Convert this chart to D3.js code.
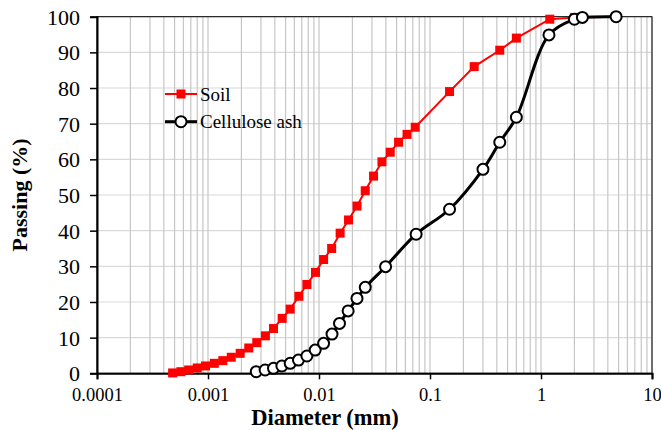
<!DOCTYPE html>
<html>
<head>
<meta charset="utf-8">
<script src="https://cdn.jsdelivr.net/npm/d3@7"></script>
<style>
    body { margin: 0; background: #fff; }
    svg text { font-family: "Liberation Serif", "Times New Roman", Times, serif; }
</style>
</head>
<body>
<div id="chart"></div>
<script>
    // grain size values
    const soilDiameter = [0.00048, 0.00057, 0.00067, 0.0008, 0.00095, 0.00114, 0.00136, 0.00162, 0.00195, 0.00233,
        0.00275, 0.00329, 0.00389, 0.00466, 0.0055, 0.00659, 0.00778, 0.0093, 0.011, 0.013,
        0.0155, 0.01845, 0.022, 0.0261, 0.031, 0.0369, 0.0438, 0.0521, 0.0621, 0.0736,
        0.15, 0.25, 0.425, 0.6, 1.2, 2.0, 4.75];
    const soilPassing = [0.1, 0.45, 0.93, 1.5, 2.05, 2.8, 3.55, 4.5, 5.6, 7.1,
        8.6, 10.5, 12.55, 15.4, 18.0, 21.6, 24.9, 28.3, 31.9, 35.0,
        39.3, 43.0, 46.9, 51.2, 55.3, 59.3, 62.0, 64.8, 67.0, 69.0,
        79.0, 86.0, 90.6, 94.0, 99.3, 99.8, 100];

    const ashDiameter = [0.00272, 0.00327, 0.00389, 0.00463, 0.0055, 0.00653, 0.00778, 0.00924, 0.011, 0.0131,
        0.0153, 0.0183, 0.022, 0.0261, 0.0398, 0.075, 0.15, 0.3, 0.425, 0.6,
        1.18, 2.0, 2.36, 4.75];
    const ashPassing = [0.45, 0.93, 1.4, 2.05, 2.8, 3.7, 4.85, 6.5, 8.4, 11.0,
        14.0, 17.5, 21.0, 24.1, 29.9, 39.0, 46.0, 57.2, 64.8, 71.8,
        94.9, 99.3, 99.8, 100];

    const xTicks = [0.0001, 0.001, 0.01, 0.1, 1, 10];
    const xTickLabels = ["0.0001", "0.001", "0.01", "0.1", "1", "10"];
    const yTicks = [0, 10, 20, 30, 40, 50, 60, 70, 80, 90, 100];

    const width = 661, height = 430;
    const plotLeft = 97, plotRight = 652, plotTop = 16.7, plotBottom = 373.3;
    const serif = "'Liberation Serif', 'Times New Roman', Times, serif";

    const svg = d3.select("#chart")
        .append("svg")
        .attr("width", width)
        .attr("height", height)
        .style("display", "block");

    const x = d3.scaleLog().domain([0.0001, 10]).range([plotLeft, plotRight]);
    const y = d3.scaleLinear().domain([0, 100]).range([plotBottom, plotTop]);

    // minor vertical grid, 1..9 per decade
    const minor = [];
    for (let e = -4; e < 1; e++) {
        for (let m = 1; m <= 9; m++) minor.push(m * Math.pow(10, e));
    }
    minor.push(10);

    svg.append("g")
        .selectAll("line")
        .data(yTicks.slice(1))
        .join("line")
        .attr("x1", plotLeft).attr("x2", plotRight)
        .attr("y1", d => y(d)).attr("y2", d => y(d))
        .attr("stroke", "#d9d9d9")
        .attr("stroke-width", 1.2);

    svg.append("g")
        .selectAll("line")
        .data(minor)
        .join("line")
        .attr("x1", d => x(d)).attr("x2", d => x(d))
        .attr("y1", plotTop).attr("y2", plotBottom)
        .attr("stroke", "#c6c6c6")
        .attr("stroke-width", 1.2);

    // frame
    svg.append("rect")
        .attr("x", plotLeft).attr("y", plotTop)
        .attr("width", plotRight - plotLeft).attr("height", plotBottom - plotTop)
        .attr("fill", "none")
        .attr("stroke", "#000")
        .attr("stroke-width", 1);

    const xAxis = svg.append("g")
        .attr("transform", `translate(0,${plotBottom})`)
        .call(d3.axisBottom(x).tickValues(xTicks).tickFormat((d, i) => xTickLabels[i]).tickSize(6).tickPadding(9));

    const yAxis = svg.append("g")
        .attr("transform", `translate(${plotLeft},0)`)
        .call(d3.axisLeft(y).tickValues(yTicks).tickSize(7).tickPadding(10));

    [xAxis, yAxis].forEach(a => {
        a.attr("font-family", serif);
        a.select(".domain").attr("stroke", "#000").attr("stroke-width", 2);
        a.selectAll(".tick line").attr("stroke", "#000").attr("stroke-width", 1.5);
        a.selectAll(".tick text").attr("fill", "#000");
    });
    xAxis.attr("font-size", 18.5);
    yAxis.attr("font-size", 22);
    yAxis.selectAll(".tick text").attr("dy", "0.34em");

    const soil = soilDiameter.map((d, i) => ({ d: d, p: soilPassing[i] }));
    const ash = ashDiameter.map((d, i) => ({ d: d, p: ashPassing[i] }));

    // soil
    svg.append("path")
        .datum(soil)
        .attr("fill", "none")
        .attr("stroke", "#ff0000")
        .attr("stroke-width", 2)
        .attr("d", d3.line().x(d => x(d.d)).y(d => y(d.p)));

    svg.append("g")
        .selectAll("rect")
        .data(soil)
        .join("rect")
        .attr("x", d => x(d.d) - 4.5)
        .attr("y", d => y(d.p) - 4.5)
        .attr("width", 9).attr("height", 9)
        .attr("fill", "#ff0000");

    // cellulose ash
    svg.append("path")
        .datum(ash)
        .attr("fill", "none")
        .attr("stroke", "#000")
        .attr("stroke-width", 3)
        .attr("d", d3.line().curve(d3.curveCatmullRom.alpha(0.5)).x(d => x(d.d)).y(d => y(d.p)));

    svg.append("g")
        .selectAll("circle")
        .data(ash)
        .join("circle")
        .attr("cx", d => x(d.d))
        .attr("cy", d => y(d.p))
        .attr("r", 5.5)
        .attr("fill", "#fff")
        .attr("stroke", "#000")
        .attr("stroke-width", 2);

    // legend
    const legend = svg.append("g")
        .attr("font-family", serif)
        .attr("font-size", 19);
    legend.append("line")
        .attr("x1", 165).attr("x2", 197).attr("y1", 94).attr("y2", 94)
        .attr("stroke", "#ff0000").attr("stroke-width", 2);
    legend.append("rect")
        .attr("x", 176.5).attr("y", 89.5).attr("width", 9).attr("height", 9)
        .attr("fill", "#ff0000");
    legend.append("text")
        .attr("x", 200).attr("y", 100.5)
        .text("Soil");
    legend.append("line")
        .attr("x1", 165).attr("x2", 197).attr("y1", 121.7).attr("y2", 121.7)
        .attr("stroke", "#000").attr("stroke-width", 3);
    legend.append("circle")
        .attr("cx", 181).attr("cy", 121.7).attr("r", 5.5)
        .attr("fill", "#fff").attr("stroke", "#000").attr("stroke-width", 2);
    legend.append("text")
        .attr("x", 200).attr("y", 128)
        .text("Cellulose ash");

    // axis titles
    svg.append("text")
        .attr("x", 325).attr("y", 425)
        .attr("text-anchor", "middle")
        .attr("font-family", serif)
        .attr("font-size", 22.5)
        .attr("font-weight", "bold")
        .text("Diameter (mm)");

    svg.append("text")
        .attr("transform", "translate(27,195) rotate(-90)")
        .attr("text-anchor", "middle")
        .attr("font-family", serif)
        .attr("font-size", 22)
        .attr("font-weight", "bold")
        .text("Passing (%)");
</script>
</body>
</html>
